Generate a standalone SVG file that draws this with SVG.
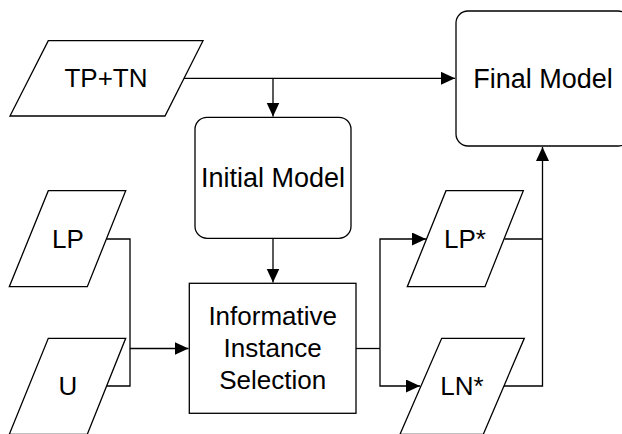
<svg xmlns="http://www.w3.org/2000/svg" width="622" height="434" viewBox="0 0 622 434">
<style>
.s{fill:#fff;stroke:#000;stroke-width:1.3}
.c{fill:none;stroke:#000;stroke-width:1.3}
.t{font-family:"Liberation Sans",Arial,sans-serif;font-size:26px;fill:#000;text-anchor:middle}
.b{font-size:27px}
</style>
<defs>
<marker id="a" markerUnits="userSpaceOnUse" markerWidth="14" markerHeight="14" refX="14" refY="6.5" orient="auto">
<path d="M0,0 L14,6.5 L0,13 z" fill="#000"/>
</marker>
</defs>
<rect width="622" height="434" fill="#fff"/>
<g id="connectors">
<path class="c" d="M184,78.3 H455" marker-end="url(#a)"/>
<path class="c" d="M273,78.3 V116.5" marker-end="url(#a)"/>
<path class="c" d="M273,238.3 V282.5" marker-end="url(#a)"/>
<path class="c" d="M106.8,239 H130 V386 H106.8"/>
<path class="c" d="M130,348.5 H188.5" marker-end="url(#a)"/>
<path class="c" d="M356,348.5 H380"/>
<path class="c" d="M380,348.5 V239 H426" marker-end="url(#a)"/>
<path class="c" d="M380,348.5 V386 H420" marker-end="url(#a)"/>
<path class="c" d="M504.5,239 H542.5"/>
<path class="c" d="M504,386 H542.5 V147" marker-end="url(#a)"/>
</g>
<g id="tptn">
<polygon class="s" points="48.3,40.7 203,40.7 165,116 10,116"/>
<text class="t" x="106" y="87">TP+TN</text>
</g>
<g id="final">
<rect class="s" x="456" y="11" width="174" height="135" rx="12"/>
<text class="t b" x="543" y="87.5">Final Model</text>
</g>
<g id="initial">
<rect class="s" x="195" y="117.3" width="156" height="121" rx="12"/>
<text class="t b" x="273" y="186.5">Initial Model</text>
</g>
<g id="lp">
<polygon class="s" points="48.3,190.7 125.7,190.7 87.3,286.7 9.3,286.7"/>
<text class="t" x="68" y="248">LP</text>
</g>
<g id="u">
<polygon class="s" points="48.3,338.3 125.7,338.3 87.3,434.3 9.3,434.3"/>
<text class="t" x="68" y="395">U</text>
</g>
<g id="selection">
<rect class="s" x="189.3" y="283.3" width="166.7" height="130"/>
<text class="t" x="272.7" y="324.5">Informative</text>
<text class="t" x="272.7" y="356.5">Instance</text>
<text class="t" x="272.7" y="388.5">Selection</text>
</g>
<g id="lpstar">
<polygon class="s" points="446,190.7 523.3,190.7 485,286.7 407.3,286.7"/>
<text class="t" x="465" y="248">LP*</text>
</g>
<g id="lnstar">
<polygon class="s" points="441.7,338.3 524.3,338.3 483.3,434.3 400,434.3"/>
<text class="t" x="462" y="395">LN*</text>
</g>
</svg>
